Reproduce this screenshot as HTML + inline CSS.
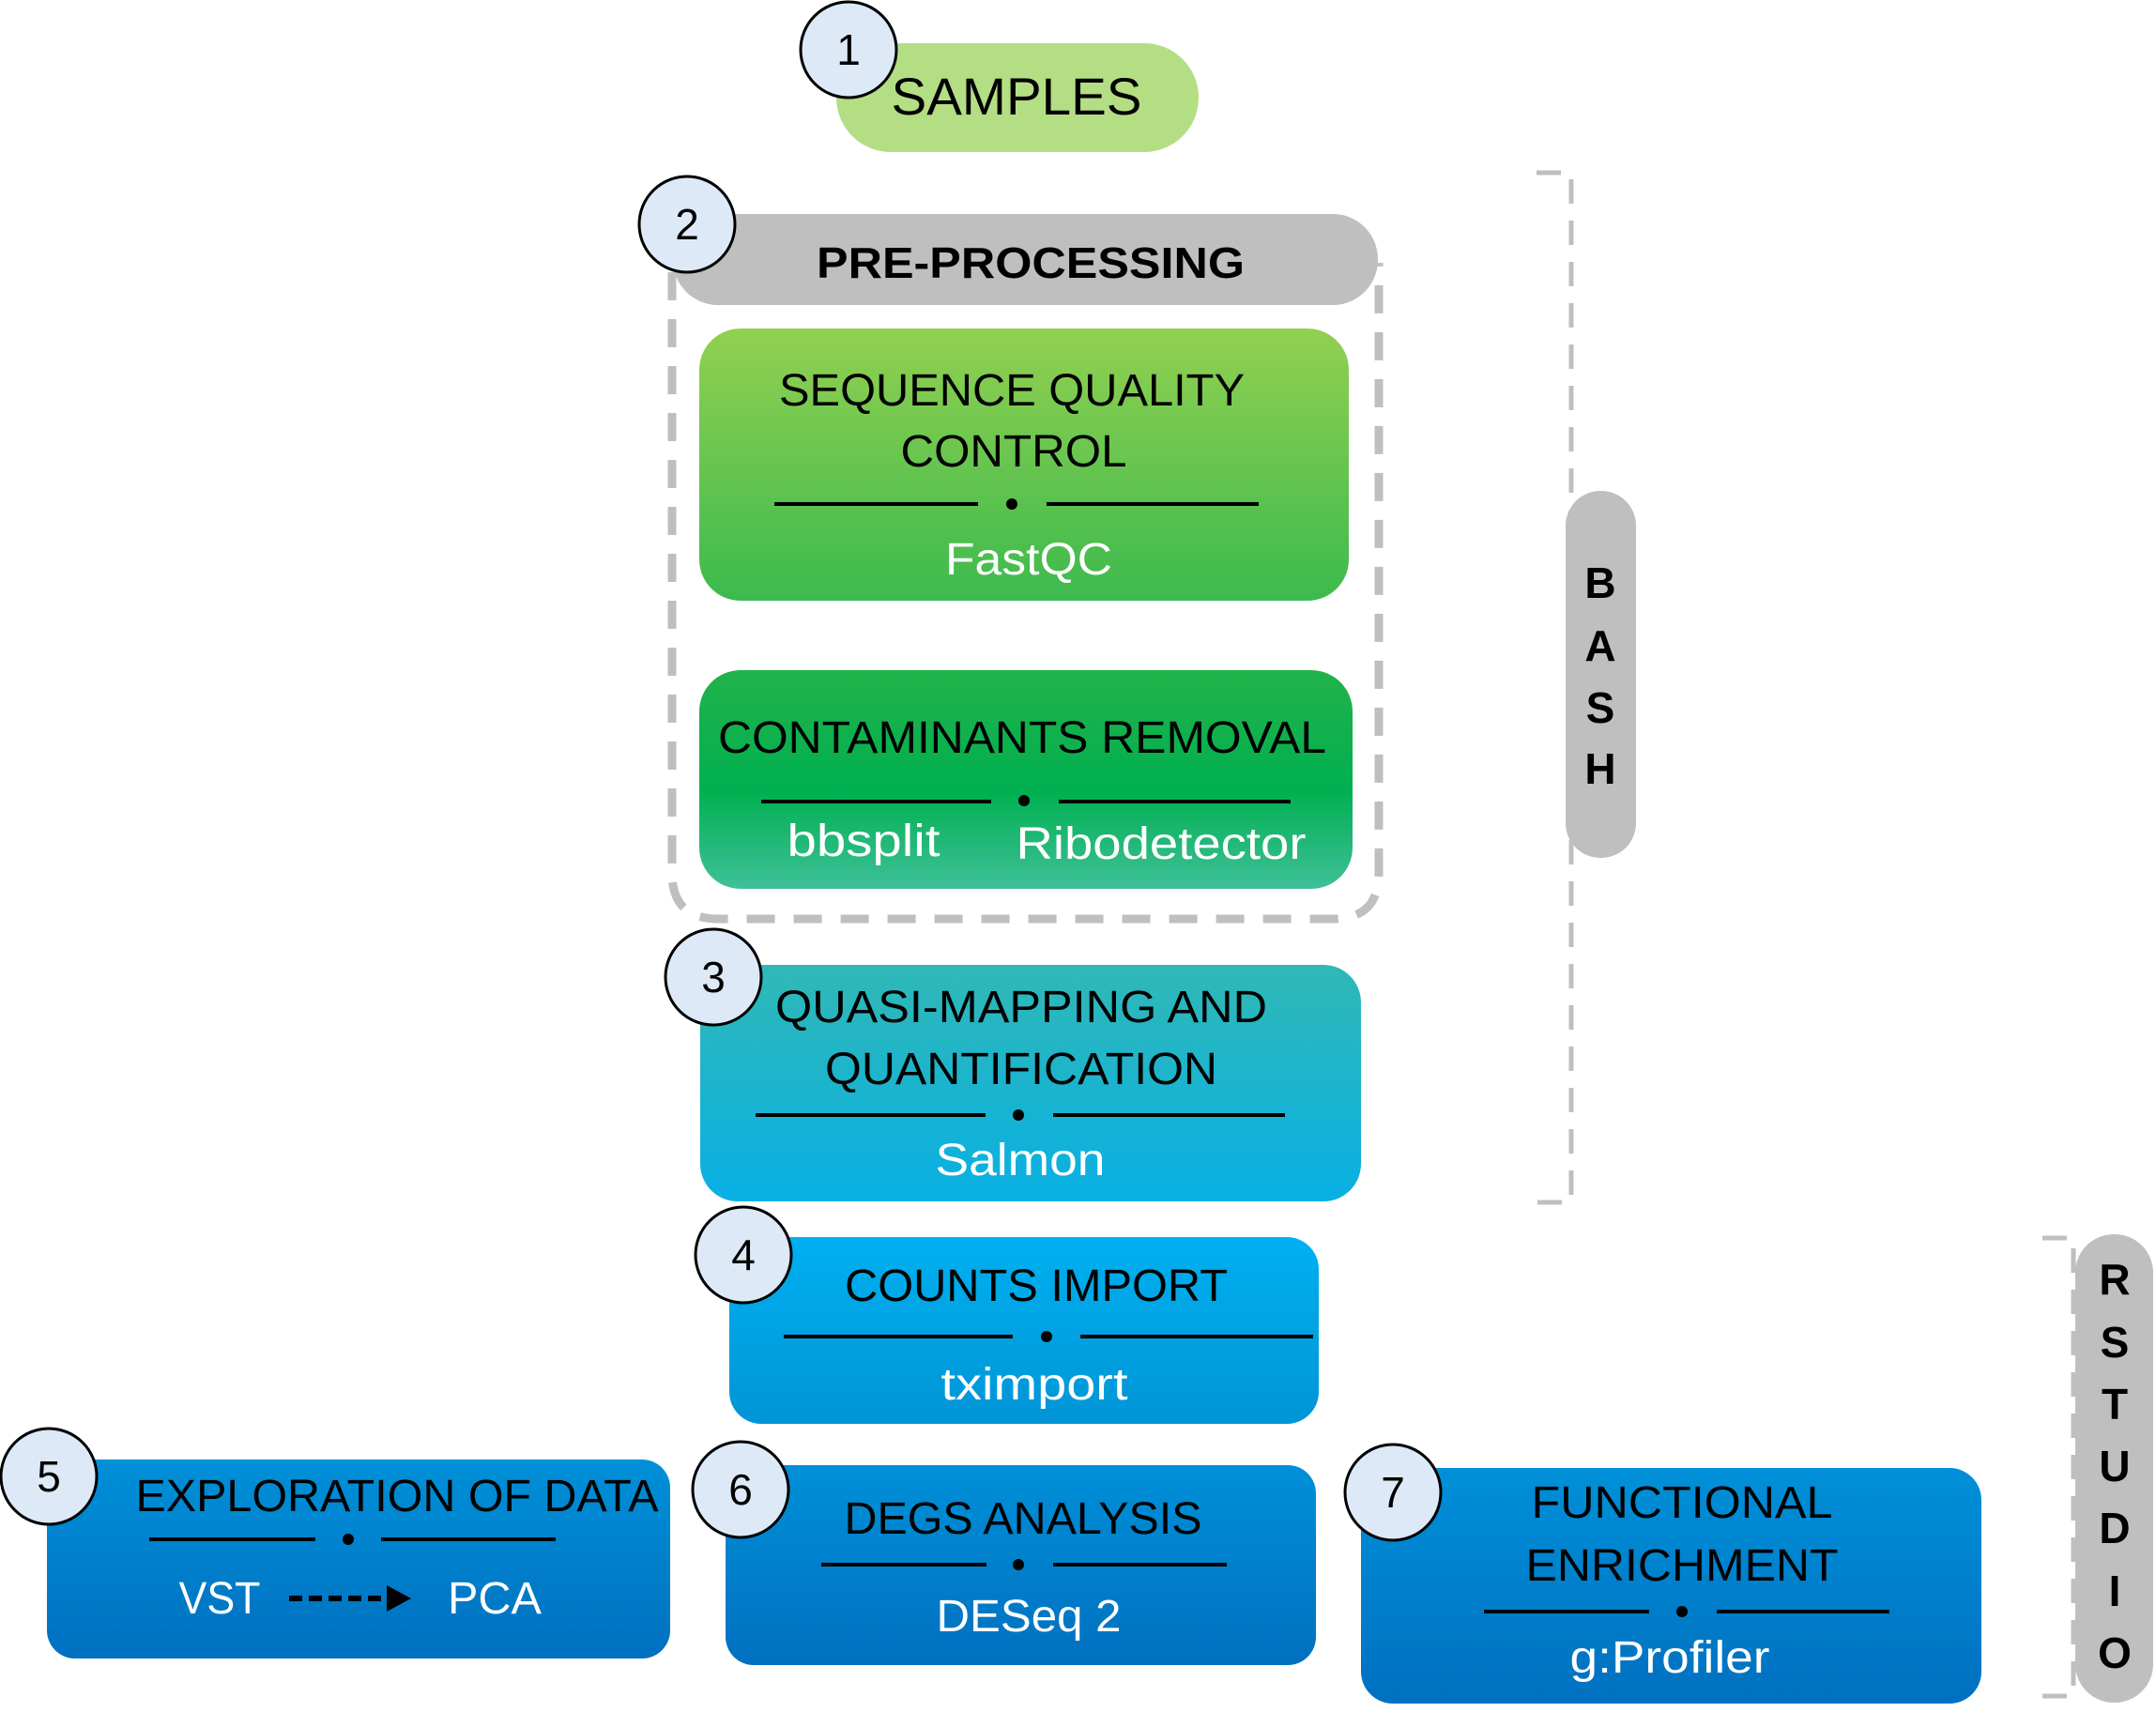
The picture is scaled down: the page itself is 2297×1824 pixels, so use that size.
<!DOCTYPE html>
<html><head><meta charset="utf-8"><style>
html,body{margin:0;padding:0;background:#fff;}
svg{display:block;}
text{font-family:"Liberation Sans",sans-serif;}
</style></head><body>
<svg width="2297" height="1824" viewBox="0 0 2297 1824" xmlns="http://www.w3.org/2000/svg">
<defs>
<linearGradient id="g1" x1="0" y1="0" x2="0" y2="1"><stop offset="0" stop-color="#92d050"/><stop offset="1" stop-color="#3cba4e"/></linearGradient>
<linearGradient id="g2" x1="0" y1="0" x2="0" y2="1"><stop offset="0" stop-color="#22b24a"/><stop offset="0.55" stop-color="#00b050"/><stop offset="1" stop-color="#3fc09a"/></linearGradient>
<linearGradient id="g3" x1="0" y1="0" x2="0" y2="1"><stop offset="0" stop-color="#30b8b6"/><stop offset="1" stop-color="#08b0e4"/></linearGradient>
<linearGradient id="g4" x1="0" y1="0" x2="0" y2="1"><stop offset="0" stop-color="#00b0f0"/><stop offset="1" stop-color="#0095d6"/></linearGradient>
<linearGradient id="g5" x1="0" y1="0" x2="0" y2="1"><stop offset="0" stop-color="#0090d8"/><stop offset="1" stop-color="#0070c0"/></linearGradient>
</defs>

<!-- BASH bracket -->
<path d="M1637 184 H1674 V1281 H1637" fill="none" stroke="#bfbfbf" stroke-width="5" stroke-dasharray="26 18"/>
<rect x="1668" y="523" width="75" height="391" rx="37" fill="#bfbfbf"/>
<g font-weight="bold" font-size="46" text-anchor="middle" fill="#000">
<text x="1705" y="637">B</text><text x="1705" y="704">A</text><text x="1705" y="770">S</text><text x="1705" y="835">H</text>
</g>

<!-- RSTUDIO bracket -->
<path d="M2176 1319 H2209 V1807 H2176" fill="none" stroke="#bfbfbf" stroke-width="5" stroke-dasharray="26 18"/>
<rect x="2211" y="1315" width="83" height="499" rx="41" fill="#bfbfbf"/>
<g font-weight="bold" font-size="46" text-anchor="middle" fill="#000">
<text x="2253" y="1379">R</text><text x="2253" y="1446">S</text><text x="2253" y="1512">T</text><text x="2253" y="1578">U</text><text x="2253" y="1644">D</text><text x="2253" y="1711">I</text><text x="2253" y="1777">O</text>
</g>

<!-- SAMPLES -->
<rect x="891" y="46" width="386" height="116" rx="58" fill="#b4de84"/>
<text x="1083" y="122" font-size="56" text-anchor="middle" textLength="267" lengthAdjust="spacingAndGlyphs">SAMPLES</text>

<!-- dashed preprocessing container -->
<path d="M716 290 V930 Q716 979 765 979 H1420 Q1469 979 1469 930 V280" fill="none" stroke="#bfbfbf" stroke-width="9" stroke-dasharray="30 20"/>
<rect x="717" y="228" width="751" height="97" rx="48" fill="#bfbfbf"/>
<text x="1098" y="296" font-size="46" font-weight="bold" text-anchor="middle" textLength="456" lengthAdjust="spacingAndGlyphs">PRE-PROCESSING</text>

<!-- SQC -->
<rect x="745" y="350" width="692" height="290" rx="44" fill="url(#g1)"/>
<text x="1078" y="432" font-size="48" text-anchor="middle" textLength="496" lengthAdjust="spacingAndGlyphs">SEQUENCE QUALITY</text>
<text x="1080" y="497" font-size="48" text-anchor="middle" textLength="241" lengthAdjust="spacingAndGlyphs">CONTROL</text>
<g stroke="#000" stroke-width="4"><line x1="825" y1="537" x2="1042" y2="537"/><line x1="1115" y1="537" x2="1341" y2="537"/></g>
<circle cx="1078" cy="537" r="6"/>
<text x="1096" y="612" font-size="48" fill="#fff" text-anchor="middle" textLength="178" lengthAdjust="spacingAndGlyphs">FastQC</text>

<!-- Contaminants -->
<rect x="745" y="714" width="696" height="233" rx="44" fill="url(#g2)"/>
<text x="1089" y="802" font-size="48" text-anchor="middle" textLength="648" lengthAdjust="spacingAndGlyphs">CONTAMINANTS REMOVAL</text>
<g stroke="#000" stroke-width="4"><line x1="811" y1="854" x2="1056" y2="854"/><line x1="1128" y1="854" x2="1375" y2="854"/></g>
<circle cx="1091" cy="853" r="6"/>
<text x="920" y="912" font-size="48" fill="#fff" text-anchor="middle" textLength="163" lengthAdjust="spacingAndGlyphs">bbsplit</text>
<text x="1237" y="915" font-size="48" fill="#fff" text-anchor="middle" textLength="309" lengthAdjust="spacingAndGlyphs">Ribodetector</text>

<!-- Quasi -->
<rect x="746" y="1028" width="704" height="252" rx="40" fill="url(#g3)"/>
<text x="1088" y="1089" font-size="48" text-anchor="middle" textLength="524" lengthAdjust="spacingAndGlyphs">QUASI-MAPPING AND</text>
<text x="1088" y="1155" font-size="48" text-anchor="middle" textLength="418" lengthAdjust="spacingAndGlyphs">QUANTIFICATION</text>
<g stroke="#000" stroke-width="4"><line x1="805" y1="1188" x2="1050" y2="1188"/><line x1="1122" y1="1188" x2="1369" y2="1188"/></g>
<circle cx="1085" cy="1188" r="6"/>
<text x="1087" y="1252" font-size="48" fill="#fff" text-anchor="middle" textLength="181" lengthAdjust="spacingAndGlyphs">Salmon</text>

<!-- Counts -->
<rect x="777" y="1318" width="628" height="199" rx="34" fill="url(#g4)"/>
<text x="1104" y="1386" font-size="48" text-anchor="middle" textLength="408" lengthAdjust="spacingAndGlyphs">COUNTS IMPORT</text>
<g stroke="#000" stroke-width="4"><line x1="835" y1="1424" x2="1079" y2="1424"/><line x1="1151" y1="1424" x2="1399" y2="1424"/></g>
<circle cx="1115" cy="1424" r="6"/>
<text x="1102" y="1491" font-size="48" fill="#fff" text-anchor="middle" textLength="199" lengthAdjust="spacingAndGlyphs">tximport</text>

<!-- Exploration -->
<rect x="50" y="1555" width="664" height="212" rx="30" fill="url(#g5)"/>
<text x="423" y="1610" font-size="48" text-anchor="middle" textLength="557" lengthAdjust="spacingAndGlyphs">EXPLORATION OF DATA</text>
<g stroke="#000" stroke-width="4"><line x1="159" y1="1640" x2="336" y2="1640"/><line x1="406" y1="1640" x2="592" y2="1640"/></g>
<circle cx="371" cy="1640" r="6"/>
<text x="234" y="1719" font-size="48" fill="#fff" text-anchor="middle" textLength="87" lengthAdjust="spacingAndGlyphs">VST</text>
<line x1="308" y1="1703" x2="415" y2="1703" stroke="#000" stroke-width="6" stroke-dasharray="14 7"/>
<polygon points="412,1689 438,1703 412,1717" fill="#000"/>
<text x="527" y="1719" font-size="48" fill="#fff" text-anchor="middle" textLength="100" lengthAdjust="spacingAndGlyphs">PCA</text>

<!-- DEGS -->
<rect x="773" y="1561" width="629" height="213" rx="30" fill="url(#g5)"/>
<text x="1090" y="1634" font-size="48" text-anchor="middle" textLength="381" lengthAdjust="spacingAndGlyphs">DEGS ANALYSIS</text>
<g stroke="#000" stroke-width="4"><line x1="875" y1="1667" x2="1051" y2="1667"/><line x1="1122" y1="1667" x2="1307" y2="1667"/></g>
<circle cx="1085" cy="1667" r="6"/>
<text x="1096" y="1738" font-size="48" fill="#fff" text-anchor="middle" textLength="197" lengthAdjust="spacingAndGlyphs">DESeq 2</text>

<!-- Functional -->
<rect x="1450" y="1564" width="661" height="251" rx="34" fill="url(#g5)"/>
<text x="1792" y="1617" font-size="48" text-anchor="middle" textLength="321" lengthAdjust="spacingAndGlyphs">FUNCTIONAL</text>
<text x="1792" y="1684" font-size="48" text-anchor="middle" textLength="333" lengthAdjust="spacingAndGlyphs">ENRICHMENT</text>
<g stroke="#000" stroke-width="4"><line x1="1581" y1="1717" x2="1757" y2="1717"/><line x1="1829" y1="1717" x2="2013" y2="1717"/></g>
<circle cx="1792" cy="1717" r="6"/>
<text x="1779" y="1782" font-size="48" fill="#fff" text-anchor="middle" textLength="213" lengthAdjust="spacingAndGlyphs">g:Profiler</text>

<!-- number circles -->
<g fill="#dde9f6" stroke="#000" stroke-width="3">
<circle cx="904" cy="53" r="51"/><circle cx="732" cy="239" r="51"/><circle cx="760" cy="1041" r="51"/>
<circle cx="792" cy="1337" r="51"/><circle cx="52" cy="1573" r="51"/><circle cx="789" cy="1587" r="51"/><circle cx="1484" cy="1590" r="51"/>
</g>
<g font-size="46" text-anchor="middle" fill="#000">
<text x="904" y="69">1</text><text x="732" y="255">2</text><text x="760" y="1057">3</text>
<text x="792" y="1353">4</text><text x="52" y="1589">5</text><text x="789" y="1603">6</text><text x="1484" y="1606">7</text>
</g>
</svg>
</body></html>
